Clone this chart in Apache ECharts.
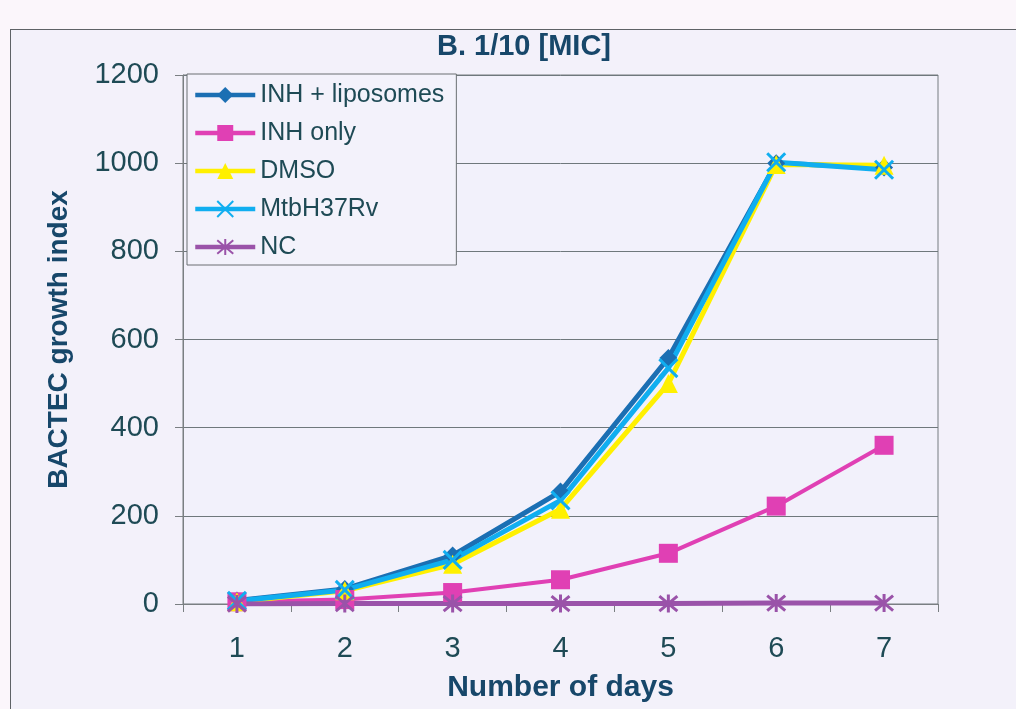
<!DOCTYPE html>
<html>
<head>
<meta charset="utf-8">
<title>B. 1/10 [MIC]</title>
<script src="https://cdn.jsdelivr.net/npm/echarts@6/dist/echarts.min.js"></script>
<style>
  html, body { margin: 0; padding: 0; background: #fbf6fb; overflow: hidden; }
  #frame {
    position: absolute; left: 10px; top: 29px; width: 1020px; height: 700px;
    background: #f3f1fa; border: 1.5px solid #5e6266; box-sizing: border-box;
  }
  #chart { position: absolute; left: 0; top: 0; width: 1016px; height: 709px; }
</style>
</head>
<body>
<div id="frame"></div>
<div id="chart"></div>
<script>
// Days of incubation
const days = ['1', '2', '3', '4', '5', '6', '7'];

// BACTEC growth index per day
const inhLiposomes = [8, 34, 110, 255, 558, 1000, 990];
const inhOnly      = [5, 10, 26, 55, 115, 222, 360];
const dmso         = [5, 30, 90, 215, 500, 997, 995];
const mtbH37Rv     = [7, 32, 100, 235, 535, 1002, 985];
const nc           = [0, 1, 1, 1, 1, 2, 2];

const seriesNames = ['INH + liposomes', 'INH only', 'DMSO', 'MtbH37Rv', 'NC'];

const yTicks = { min: 0, max: 1200, interval: 200 };

const textColor = '#1e4a55';
const headColor = '#17476a';
const font = 'Liberation Sans, Arial, sans-serif';

const crossPath = 'path://M0,0L10,10M10,0L0,10';
const starPath  = 'path://M0,0L10,10M10,0L0,10M5,-1L5,11';

function lineSeries(name, data, color, symbol, size, opts) {
  opts = opts || {};
  return {
    name: name,
    type: 'line',
    data: data,
    symbol: symbol,
    symbolSize: size,
    showSymbol: true,
    lineStyle: { color: color, width: opts.width || 5 },
    itemStyle: {
      color: opts.stroke ? 'rgba(0,0,0,0)' : color,
      borderColor: color,
      borderWidth: opts.stroke ? 3 : 0
    },
    emphasis: { disabled: true },
    animation: false
  };
}

const chart = echarts.init(document.getElementById('chart'), null, { renderer: 'canvas' });

chart.setOption({
  backgroundColor: 'transparent',
  title: {
    text: 'B. 1/10 [MIC]',
    left: 519,
    textAlign: 'center',
    top: 27,
    textStyle: { fontFamily: font, fontWeight: 'bold', fontSize: 29, color: headColor }
  },
  grid: {
    left: 183, right: 78, top: 75, bottom: 105,
    show: true,
    backgroundColor: '#f2f1fb',
    borderColor: '#777d80',
    borderWidth: 1
  },
  legend: {
    orient: 'vertical',
    left: 187,
    top: 74,
    data: seriesNames,
    itemWidth: 60,
    itemHeight: 20,
    itemGap: 12,
    padding: [8, 12, 5, 6],
    backgroundColor: '#f3f2fb',
    borderColor: '#6b6f72',
    borderWidth: 1,
    borderRadius: 0,
    lineStyle: { width: 4.5 },
    textStyle: { fontFamily: font, fontSize: 25, lineHeight: 26, color: textColor }
  },
  xAxis: {
    type: 'category',
    data: days,
    boundaryGap: true,
    name: 'Number of days',
    nameLocation: 'middle',
    nameGap: 69,
    nameTextStyle: { fontFamily: font, fontWeight: 'bold', fontSize: 30, color: headColor },
    axisLine: { lineStyle: { color: '#7a7f82', width: 1 } },
    axisTick: { show: true, length: 8, inside: false, alignWithLabel: false, lineStyle: { color: '#7a7f82' } },
    axisLabel: { margin: 30, fontFamily: font, fontSize: 29, color: textColor },
    splitLine: { show: false }
  },
  yAxis: {
    type: 'value',
    min: yTicks.min,
    max: yTicks.max,
    interval: yTicks.interval,
    name: 'BACTEC growth index',
    nameLocation: 'middle',
    nameGap: 110,
    nameTextStyle: { fontFamily: font, fontWeight: 'bold', fontSize: 28, color: headColor },
    axisLine: { show: true, lineStyle: { color: '#7a7f82', width: 1 } },
    axisTick: { show: true, length: 8, lineStyle: { color: '#7a7f82' } },
    axisLabel: {
      margin: 24,
      fontFamily: font,
      fontSize: 29,
      color: textColor,
      formatter: function (v) { return String(v); }
    },
    splitLine: { show: true, lineStyle: { color: '#6f787c', width: 1 } }
  },
  series: [
    lineSeries(seriesNames[0], inhLiposomes, '#1b6fb3', 'diamond', 18),
    lineSeries(seriesNames[1], inhOnly, '#e040b4', 'rect', 19, { width: 4 }),
    lineSeries(seriesNames[2], dmso, '#fff000', 'triangle', 19),
    lineSeries(seriesNames[3], mtbH37Rv, '#10aef0', crossPath, 18, { stroke: true }),
    lineSeries(seriesNames[4], nc, '#9a53a9', starPath, 18, { stroke: true })
  ]
});
</script>
</body>
</html>
